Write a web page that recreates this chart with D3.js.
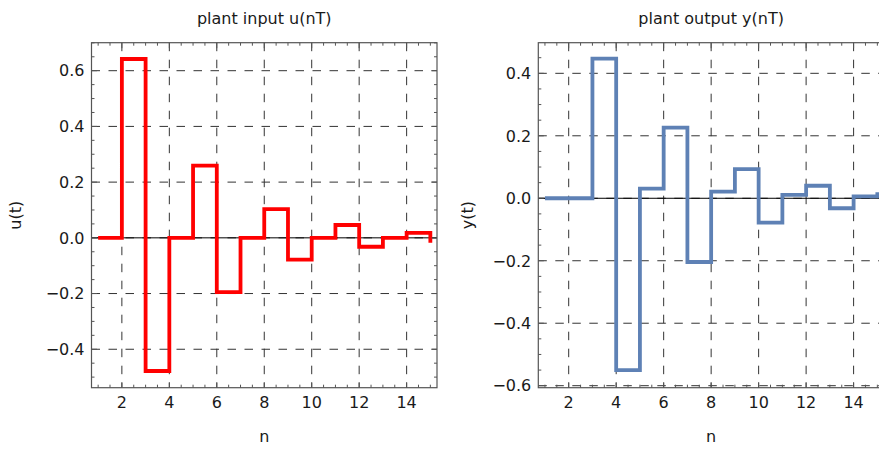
<!DOCTYPE html>
<html>
<head>
<meta charset="utf-8">
<script src="https://cdn.jsdelivr.net/npm/d3@7"></script>
<style>
  html, body { margin: 0; padding: 0; background: #fff; }
  svg { display: block; }
  text { font-family: "DejaVu Sans", "Liberation Sans", Arial, sans-serif; fill: #1a1a1a; }
</style>
</head>
<body>
<svg id="chart" width="879" height="449"></svg>
<script>
// sample index
const samples = [1, 2, 3, 4, 5, 6, 7, 8, 9, 10, 11, 12, 13, 14, 15];
// controller output applied to the plant
const inputValues = [0, 0.642, -0.478, 0, 0.259, -0.195, 0, 0.103, -0.078, 0, 0.046, -0.032, 0, 0.018, -0.018];
// sampled plant response
const outputValues = [0, 0, 0.447, -0.55, 0.031, 0.226, -0.204, 0.021, 0.093, -0.078, 0.011, 0.040, -0.032, 0.006, 0.019];

const xTickValues = [2, 4, 6, 8, 10, 12, 14];
const inputTickValues = [-0.4, -0.2, 0.0, 0.2, 0.4, 0.6];
const outputTickValues = [-0.6, -0.4, -0.2, 0.0, 0.2, 0.4];

const svg = d3.select("#chart");
const fmt = v => (v < 0 ? "\u2212" : "") + Math.abs(v).toFixed(1);
const FS = 16;

function panel(opts) {
  const { left, right, top, bottom, xDomain, yDomain, values, yTicks, color, title, yLabel } = opts;
  const x = d3.scaleLinear().domain(xDomain).range([left, right]);
  const y = d3.scaleLinear().domain(yDomain).range([bottom, top]);
  const g = svg.append("g");

  // dashed grid at major ticks
  const grid = g.append("g").attr("stroke", "#333").attr("stroke-width", 1)
    .attr("stroke-dasharray", "8.5,8.5").attr("fill", "none");
  xTickValues.forEach(t => {
    grid.append("line").attr("x1", x(t)).attr("x2", x(t)).attr("y1", top).attr("y2", bottom);
  });
  yTicks.forEach(t => {
    grid.append("line").attr("x1", left).attr("x2", right).attr("y1", y(t)).attr("y2", y(t));
  });

  // zero axis
  g.append("line").attr("x1", left).attr("x2", right).attr("y1", y(0)).attr("y2", y(0))
    .attr("stroke", "#000").attr("stroke-width", 1);

  // step trace
  const line = d3.line().x((d, i) => x(samples[i])).y(d => y(d)).curve(d3.curveStepAfter);
  g.append("path").datum(values).attr("d", line)
    .attr("fill", "none").attr("stroke", color).attr("stroke-width", 3.8)
    .attr("stroke-linejoin", "miter").attr("stroke-linecap", "butt");

  // frame
  g.append("rect").attr("x", left).attr("y", top).attr("width", right - left).attr("height", bottom - top)
    .attr("fill", "none").attr("stroke", "#555").attr("stroke-width", 1.2);

  // ticks on all four sides, pointing inward
  const ticks = g.append("g").attr("stroke", "#555").attr("stroke-width", 1);
  const xMinor = d3.range(1, 15.01, 0.5);
  xMinor.forEach(t => {
    const major = xTickValues.includes(t);
    const len = major ? 5.5 : 3;
    ticks.append("line").attr("x1", x(t)).attr("x2", x(t)).attr("y1", bottom).attr("y2", bottom - len);
    ticks.append("line").attr("x1", x(t)).attr("x2", x(t)).attr("y1", top).attr("y2", top + len);
  });
  const yMin = Math.ceil(yDomain[0] / 0.05 - 1e-6), yMax = Math.floor(yDomain[1] / 0.05 + 1e-6);
  d3.range(yMin, yMax + 1).forEach(k => {
    const t = k * 0.05;
    const major = k % 4 === 0;
    const len = major ? 5.5 : 3;
    ticks.append("line").attr("x1", left).attr("x2", left + len).attr("y1", y(t)).attr("y2", y(t));
    ticks.append("line").attr("x1", right).attr("x2", right - len).attr("y1", y(t)).attr("y2", y(t));
  });

  // tick labels
  g.append("g").selectAll("text").data(xTickValues).join("text")
    .attr("x", d => x(d)).attr("y", bottom + 20.5).attr("text-anchor", "middle")
    .attr("font-size", FS).text(d => d);
  g.append("g").selectAll("text").data(yTicks).join("text")
    .attr("x", left - 7).attr("y", d => y(d)).attr("dy", "0.36em").attr("text-anchor", "end")
    .attr("font-size", FS).text(fmt);

  // titles
  g.append("text").attr("x", (left + right) / 2).attr("y", 24).attr("text-anchor", "middle")
    .attr("font-size", FS).text(title);
  g.append("text").attr("x", (left + right) / 2).attr("y", 441.5).attr("text-anchor", "middle")
    .attr("font-size", FS).text("n");
  g.append("text").attr("transform", `translate(${opts.yLabelX},${(top + bottom) / 2}) rotate(-90)`)
    .attr("text-anchor", "middle").attr("font-size", FS).text(yLabel);
}

panel({
  left: 91.5, right: 437, top: 42.7, bottom: 387.7,
  xDomain: [0.72, 15.28], yDomain: [-0.538, 0.7005],
  values: inputValues, yTicks: inputTickValues, color: "#ff0000",
  title: "plant input u(nT)", yLabel: "u(t)", yLabelX: 21
});
panel({
  left: 538.3, right: 884, top: 42.7, bottom: 387.7,
  xDomain: [0.72, 15.28], yDomain: [-0.6064, 0.498],
  values: outputValues, yTicks: outputTickValues, color: "#5e81b5",
  title: "plant output y(nT)", yLabel: "y(t)", yLabelX: 473
});
</script>
</body>
</html>
